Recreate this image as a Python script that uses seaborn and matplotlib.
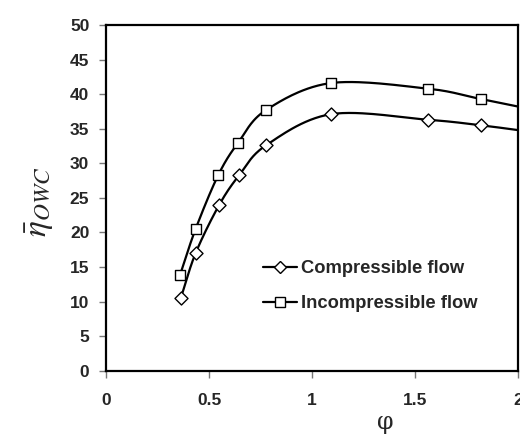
import numpy as np
import pandas as pd
import matplotlib
matplotlib.use("Agg")
import matplotlib.pyplot as plt
from matplotlib.lines import Line2D
import seaborn as sns

# ---- data ----
phi_inc = [0.36, 0.435, 0.545, 0.642, 0.777, 1.091, 1.561, 1.819, 2.1]
eta_inc = [13.9, 20.5, 28.3, 33.0, 37.7, 41.6, 40.8, 39.3, 37.6]
phi_comp = [0.363, 0.435, 0.548, 0.647, 0.777, 1.092, 1.561, 1.819, 2.1]
eta_comp = [10.5, 17.0, 23.9, 28.3, 32.6, 37.1, 36.3, 35.5, 34.4]
x_ticks = [0, 0.5, 1, 1.5, 2]
x_tick_labels = ["0", "0.5", "1", "1.5", "2"]
y_ticks = [0, 5, 10, 15, 20, 25, 30, 35, 40, 45, 50]
series_names = ["Compressible flow", "Incompressible flow"]

sns.set_style("ticks")
plt.rcParams["font.family"] = ["Liberation Sans", "DejaVu Sans"]
plt.rcParams["mathtext.fontset"] = "stix"


def smooth(x, y, n=30):
    """Catmull-Rom style smoothing for display of the curve (like a smoothed Excel line)."""
    x = np.asarray(x, float)
    y = np.asarray(y, float)
    P = np.column_stack([x, y])
    P = np.vstack([2 * P[0] - P[1], P, 2 * P[-1] - P[-2]])
    out = []
    t = np.linspace(0, 1, n, endpoint=False)[:, None]
    for i in range(1, len(P) - 2):
        p0, p1, p2, p3 = P[i - 1], P[i], P[i + 1], P[i + 2]
        seg = 0.5 * ((2 * p1) + (-p0 + p2) * t + (2 * p0 - 5 * p1 + 4 * p2 - p3) * t ** 2
                     + (-p0 + 3 * p1 - 3 * p2 + p3) * t ** 3)
        out.append(seg)
    out.append(P[-2][None, :])
    out = np.vstack(out)
    return out[:, 0], out[:, 1]


fig = plt.figure(figsize=(5.2, 4.37), dpi=100)
ax = fig.add_axes([106 / 520, 1 - 370.7 / 437, 412 / 520, 345.7 / 437])

for xs, ys, mk in [(phi_inc, eta_inc, "s"), (phi_comp, eta_comp, "D")]:
    sx, sy = smooth(xs, ys)
    df_line = pd.DataFrame({"phi": sx, "eta": sy})
    sns.lineplot(data=df_line, x="phi", y="eta", ax=ax, color="black", lw=1.6,
                 sort=False, estimator=None)
    df_pts = pd.DataFrame({"phi": xs, "eta": ys})
    sns.scatterplot(data=df_pts, x="phi", y="eta", ax=ax, marker=mk,
                    s=52 if mk == "s" else 44, facecolor="white", edgecolor="black",
                    linewidth=1.0, zorder=5)

ax.set_xlim(0, 2)
ax.set_ylim(0, 50)
ax.set_xticks(x_ticks)
ax.set_xticklabels(x_tick_labels)
ax.set_yticks(y_ticks)
for lab in ax.get_xticklabels() + ax.get_yticklabels():
    lab.set_fontweight("bold")
    lab.set_fontsize(12.5)
ax.tick_params(axis="both", direction="out", length=5, width=1, color="#777777")
ax.tick_params(axis="x", pad=11)
ax.tick_params(axis="y", pad=7)
for sp in ax.spines.values():
    sp.set_visible(True)
    sp.set_linewidth(1.6)
    sp.set_color("black")

ax.set_xlabel("")
ax.set_ylabel("")
fig.text(385 / 520, 1 - 422 / 437, "φ", ha="center", va="center", fontsize=17,
         family=["DejaVu Serif"])
fig.text(40 / 520, 1 - 202 / 437, r"$\bar{\eta}_{OWC}$", ha="center", va="center",
         fontsize=24, rotation=90)

handles = [
    Line2D([], [], color="black", lw=1.6, marker="D", markersize=6.5,
           markerfacecolor="white", markeredgecolor="black", markeredgewidth=1.0),
    Line2D([], [], color="black", lw=1.6, marker="s", markersize=7,
           markerfacecolor="white", markeredgecolor="black", markeredgewidth=1.0),
]
leg = ax.legend(handles, series_names, loc="upper left", bbox_to_anchor=(0.38, 0.32),
                frameon=False, handlelength=1.9, handletextpad=0.2, labelspacing=1.0,
                borderaxespad=0, borderpad=0,
                prop={"weight": "bold", "size": 13.2, "family": "Liberation Sans"})

fig.savefig("out.png", dpi=100)
